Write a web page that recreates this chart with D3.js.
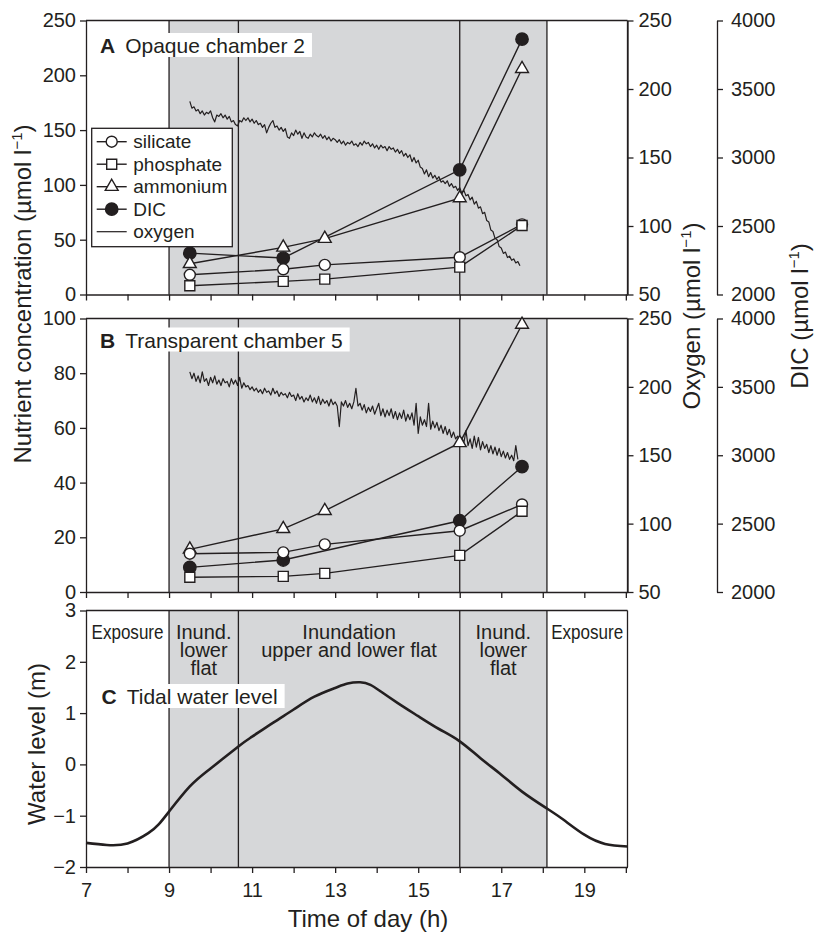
<!DOCTYPE html>
<html lang="en">
<head>
<meta charset="UTF-8">
<title>Chamber incubations and tide</title>
<script src="https://d3js.org/d3.v7.min.js"></script>
<style>
  body { margin: 0; background: #fff; }
  svg { display: block; font-family: "Liberation Sans", Arial, Helvetica, sans-serif; }
  .tick text { font-size: 20px; fill: #231f20; }
  .tick line, .domain { stroke: #231f20; stroke-width: 1.3; }
</style>
</head>
<body>
<svg width="815" height="933"></svg>
<script>
// ---- data ----
var sampleTimes = [9.5, 11.75, 12.75, 16, 17.5];
var dicTimes = [9.5, 11.75, 16, 17.5];

// A: opaque chamber 2
var silicateA = [18, 23, 27, 34, 64];
var phosphateA = [8, 12, 14, 25, 63];
var ammoniumA = [28, 43, 51, 88, 206];
var dicA = [2302, 2266, 2910, 3864];

// B: transparent chamber 5
var silicateB = [14, 14.5, 17.4, 22.4, 32];
var phosphateB = [5.4, 5.7, 6.8, 13.4, 29.5];
var ammoniumB = [15.6, 23.1, 29.7, 54.5, 97.8];
var dicB = [2180, 2234, 2521, 2916];

// oxygen logger traces [time, umol/l]
var oxygenA = [[9.5,191],[9.55,186],[9.6,187],[9.65,184],[9.7,185],[9.75,182],[9.8,184],[9.85,181],[9.9,183],[9.95,182],
  [10,184],[10.05,179],[10.1,176],[10.15,181],[10.2,180],[10.25,182],[10.3,179],[10.35,181],[10.4,178],[10.45,180],
  [10.5,176],[10.55,177],[10.6,174],[10.65,173],[10.7,177],[10.75,176],[10.8,179],[10.85,177],[10.9,179],[10.95,176],
  [11,178],[11.05,175],[11.1,177],[11.15,174],[11.2,175],[11.25,172],[11.3,174],[11.35,168],[11.4,172],[11.45,175],
  [11.5,177],[11.55,172],[11.6,173],[11.65,170],[11.7,172],[11.75,169],[11.8,171],[11.85,165],[11.9,164],[11.95,168],
  [12,166],[12.05,170],[12.1,167],[12.15,169],[12.2,164],[12.25,168],[12.3,165],[12.35,164],[12.4,167],[12.45,165],
  [12.5,168],[12.55,166],[12.6,165],[12.65,167],[12.7,164],[12.75,166],[12.8,163],[12.85,165],[12.9,162],[12.95,164],
  [13,163],[13.05,161],[13.1,163],[13.15,160],[13.2,162],[13.25,159],[13.3,161],[13.35,160],[13.4,162],[13.45,159],
  [13.5,160],[13.55,158],[13.6,161],[13.65,159],[13.7,162],[13.75,160],[13.8,161],[13.85,158],[13.9,160],[13.95,157],
  [14,159],[14.05,156],[14.1,159],[14.15,157],[14.2,158],[14.25,155],[14.3,158],[14.35,156],[14.4,157],[14.45,154],
  [14.5,156],[14.55,153],[14.6,155],[14.65,151],[14.7,153],[14.75,150],[14.8,152],[14.85,147],[14.9,150],[14.95,146],
  [15,148],[15.05,143],[15.1,142],[15.15,138],[15.2,141],[15.25,136],[15.3,139],[15.35,135],[15.4,137],[15.45,134],
  [15.5,136],[15.55,132],[15.6,133],[15.65,131],[15.7,133],[15.75,129],[15.8,131],[15.85,128],[15.9,129],[15.95,126],
  [16,128],[16.05,124],[16.1,126],[16.15,122],[16.2,123],[16.25,119],[16.3,121],[16.35,116],[16.4,118],[16.45,113],
  [16.5,114],[16.55,109],[16.6,110],[16.65,104],[16.7,103],[16.75,97],[16.8,96],[16.85,91],[16.9,90],[16.95,85],
  [17,84],[17.05,80],[17.1,81],[17.15,77],[17.2,78],[17.25,75],[17.3,76],[17.35,73],[17.4,74],[17.45,71]];

var oxygenB = [[9.5,211],[9.55,206],[9.6,210],[9.65,204],[9.7,208],[9.75,203],[9.8,211],[9.85,204],[9.9,206],[9.95,201],
  [10,207],[10.05,203],[10.1,208],[10.15,202],[10.2,205],[10.25,201],[10.3,206],[10.35,203],[10.4,204],[10.45,200],
  [10.5,206],[10.55,202],[10.6,205],[10.65,201],[10.7,207],[10.75,199],[10.8,203],[10.85,200],[10.9,201],[10.95,198],
  [11,200],[11.05,197],[11.1,199],[11.15,196],[11.2,198],[11.25,195],[11.3,199],[11.35,196],[11.4,197],[11.45,194],
  [11.5,199],[11.55,195],[11.6,197],[11.65,193],[11.7,196],[11.75,194],[11.8,195],[11.85,192],[11.9,196],[11.95,193],
  [12,194],[12.05,190],[12.1,195],[12.15,191],[12.2,193],[12.25,189],[12.3,192],[12.35,190],[12.4,194],[12.45,189],
  [12.5,192],[12.55,188],[12.6,193],[12.65,187],[12.7,191],[12.75,188],[12.8,190],[12.85,186],[12.9,191],[12.95,187],
  [13,189],[13.05,186],[13.1,171],[13.15,189],[13.2,186],[13.25,190],[13.3,185],[13.35,188],[13.4,184],[13.45,189],
  [13.5,199],[13.55,186],[13.6,188],[13.65,183],[13.7,187],[13.75,181],[13.8,185],[13.85,182],[13.9,186],[13.95,180],
  [14,184],[14.05,188],[14.1,179],[14.15,184],[14.2,178],[14.25,183],[14.3,179],[14.35,184],[14.4,177],[14.45,182],
  [14.5,176],[14.55,181],[14.6,177],[14.65,183],[14.7,175],[14.75,180],[14.8,176],[14.85,181],[14.9,172],[14.95,188],
  [15,166],[15.05,178],[15.1,172],[15.15,176],[15.2,171],[15.25,188],[15.3,169],[15.35,175],[15.4,170],[15.45,174],
  [15.5,168],[15.55,172],[15.6,166],[15.65,171],[15.7,165],[15.75,169],[15.8,163],[15.85,167],[15.9,162],[15.95,164],
  [16,160],[16.05,163],[16.1,159],[16.15,168],[16.2,157],[16.25,162],[16.3,155],[16.35,164],[16.4,156],[16.45,163],
  [16.5,154],[16.55,160],[16.6,155],[16.65,158],[16.7,152],[16.75,157],[16.8,151],[16.85,156],[16.9,150],[16.95,155],
  [17,149],[17.05,153],[17.1,148],[17.15,152],[17.2,147],[17.25,150],[17.3,146],[17.35,157],[17.4,147]];

// C: tidal water level [time, m]
var tideLevel = [[7,-1.53],[7.5,-1.57],[8,-1.54],[8.5,-1.34],[8.75,-1.17],[9,-0.92],[9.5,-0.43],[10,-0.08],
  [10.67,0.35],[11,0.54],[11.5,0.81],[12,1.07],[12.5,1.32],[13,1.49],[13.3,1.575],[13.6,1.6],[13.85,1.55],
  [14.1,1.42],[14.5,1.2],[15,0.94],[15.5,0.69],[16,0.45],[16.5,0.12],[17,-0.2],[17.5,-0.53],[18.1,-0.86],
  [18.5,-1.08],[19,-1.37],[19.5,-1.55],[20.04,-1.6]];

// period boundaries and labels
var periodEdges = [9, 10.67, 16, 18.1];
var periodLabels = [
  {from: 7, to: 9, lines: ["Exposure"]},
  {from: 9, to: 10.67, lines: ["Inund.", "lower", "flat"]},
  {from: 10.67, to: 16, lines: ["Inundation", "upper and lower flat"]},
  {from: 16, to: 18.1, lines: ["Inund.", "lower", "flat"]},
  {from: 18.1, to: 20.04, lines: ["Exposure"]}
];

// ticks
var hourTicks = [7, 8, 9, 10, 11, 12, 13, 14, 15, 16, 17, 18, 19, 20];
var hourLabels = [7, 9, 11, 13, 15, 17, 19];
var nutrientTicksA = [0, 50, 100, 150, 200, 250];
var nutrientTicksB = [0, 20, 40, 60, 80, 100];
var oxygenTicks = [50, 100, 150, 200, 250];
var dicTicks = [2000, 2500, 3000, 3500, 4000];
var levelTicks = [-2, -1, 0, 1, 2, 3];

// ---- drawing ----
var ink = "#231f20", shade = "#d6d7d9";
var svg = d3.select("svg");
var x = d3.scaleLinear().domain([7, 20.04]).range([86, 627.5]);
var plain = d3.format("");

var sym = {
  circle: d3.symbol().type(d3.symbolCircle).size(95),
  square: d3.symbol().type(d3.symbolSquare).size(100),
  triangle: d3.symbol().type(d3.symbolTriangle).size(72),
  dot: d3.symbol().type(d3.symbolCircle).size(120)
};

function drawBackground(g, top, bottom) {
  g.append("rect")
    .attr("x", x(periodEdges[0])).attr("y", top)
    .attr("width", x(periodEdges[3]) - x(periodEdges[0]))
    .attr("height", bottom - top)
    .attr("fill", shade);
  g.selectAll("line.edge").data(periodEdges).enter().append("line")
    .attr("class", "edge")
    .attr("x1", d => x(d)).attr("x2", d => x(d))
    .attr("y1", top).attr("y2", bottom)
    .attr("stroke", ink).attr("stroke-width", 1.3);
  // top and right frame
  g.append("line").attr("x1", x.range()[0]).attr("x2", x.range()[1])
    .attr("y1", top).attr("y2", top).attr("stroke", ink).attr("stroke-width", 1.3);
  g.append("line").attr("x1", x.range()[1]).attr("x2", x.range()[1])
    .attr("y1", top).attr("y2", bottom).attr("stroke", ink).attr("stroke-width", 1.3);
}

function drawXAxis(g, bottom, labelled) {
  g.append("g")
    .attr("transform", "translate(0," + bottom + ")")
    .call(d3.axisBottom(x).tickValues(hourTicks).tickSize(6).tickSizeOuter(0).tickPadding(10)
      .tickFormat(d => labelled && hourLabels.indexOf(d) >= 0 ? plain(d) : ""));
}

function drawLeftAxis(g, scale, ticks) {
  g.append("g")
    .attr("transform", "translate(" + x.range()[0] + ",0)")
    .call(d3.axisLeft(scale).tickValues(ticks).tickFormat(plain)
      .tickSize(6).tickPadding(4).tickSizeOuter(0));
}

function drawRightAxes(g, oScale, dScale) {
  g.append("g")
    .attr("transform", "translate(" + x.range()[1] + ",0)")
    .call(d3.axisRight(oScale).tickValues(oxygenTicks).tickFormat(plain)
      .tickSize(6).tickPadding(5).tickSizeOuter(0));
  g.append("g")
    .attr("transform", "translate(717,0)")
    .call(d3.axisRight(dScale).tickValues(dicTicks).tickFormat(plain)
      .tickSize(6).tickPadding(8).tickSizeOuter(0));
}

function drawTitle(g, letter, rest, tx, ty) {
  var t = g.append("text").attr("x", tx).attr("y", ty)
    .attr("font-size", 21).attr("fill", ink);
  t.append("tspan").attr("font-weight", "bold").text(letter);
  t.append("tspan").attr("dx", 10).text(rest);
  var bb = t.node().getBBox();
  g.insert("rect", function() { return t.node(); })
    .attr("x", bb.x - 5).attr("y", bb.y - 1)
    .attr("width", bb.width + 12).attr("height", bb.height + 1)
    .attr("fill", "#fff");
}

function drawSeries(g, series) {
  var layer = g.append("g");
  series.forEach(function(s) {
    var pts = s.times.map((t, i) => [x(t), s.scale(s.values[i])]);
    layer.append("path")
      .attr("d", d3.line()(pts))
      .attr("fill", "none").attr("stroke", ink).attr("stroke-width", 1.4);
  });
  series.forEach(function(s) {
    s.times.forEach(function(t, i) {
      layer.append("path")
        .attr("d", sym[s.symbol]())
        .attr("transform", "translate(" + x(t) + "," + s.scale(s.values[i]) + ")")
        .attr("fill", s.symbol === "dot" ? ink : "#fff")
        .attr("stroke", ink).attr("stroke-width", 1.4);
    });
  });
}

function drawOxygen(g, data, scale) {
  g.append("path")
    .datum(data)
    .attr("d", d3.line().x(d => x(d[0])).y(d => scale(d[1])))
    .attr("fill", "none").attr("stroke", ink).attr("stroke-width", 1.2)
    .attr("stroke-linejoin", "round");
}

// Panel A
var yA = d3.scaleLinear().domain([0, 250]).range([294.5, 20.5]);
var oA = d3.scaleLinear().domain([50, 250]).range([294.5, 20.5]);
var dA = d3.scaleLinear().domain([2000, 4000]).range([294.5, 20.5]);
var gA = svg.append("g");
drawBackground(gA, 20.5, 294.5);
drawOxygen(gA, oxygenA, oA);
drawSeries(gA, [
  {times: dicTimes, values: dicA, scale: dA, symbol: "dot"},
  {times: sampleTimes, values: ammoniumA, scale: yA, symbol: "triangle"},
  {times: sampleTimes, values: silicateA, scale: yA, symbol: "circle"},
  {times: sampleTimes, values: phosphateA, scale: yA, symbol: "square"}
]);
drawXAxis(gA, 294.5, false);
drawLeftAxis(gA, yA, nutrientTicksA);
drawRightAxes(gA, oA, dA);
drawTitle(gA, "A", "Opaque chamber 2", 100, 53);

// legend
var legendItems = [
  {name: "silicate", symbol: "circle"},
  {name: "phosphate", symbol: "square"},
  {name: "ammonium", symbol: "triangle"},
  {name: "DIC", symbol: "dot"},
  {name: "oxygen", symbol: null}
];
var leg = gA.append("g").attr("transform", "translate(91.7,128.3)");
leg.append("rect").attr("width", 140.6).attr("height", 118.4)
  .attr("fill", "#fff").attr("stroke", ink).attr("stroke-width", 1.3);
legendItems.forEach(function(d, i) {
  var ly = 13.4 + i * 22.5;
  leg.append("line").attr("x1", 5).attr("x2", 35).attr("y1", ly).attr("y2", ly)
    .attr("stroke", ink).attr("stroke-width", d.symbol ? 1.4 : 1.2);
  if (d.symbol) {
    leg.append("path").attr("d", sym[d.symbol]())
      .attr("transform", "translate(20," + ly + ")")
      .attr("fill", d.symbol === "dot" ? ink : "#fff")
      .attr("stroke", ink).attr("stroke-width", 1.4);
  }
  leg.append("text").attr("x", 41.6).attr("y", ly).attr("dy", "0.35em")
    .attr("font-size", 19).attr("fill", ink).text(d.name);
});

// Panel B
var yB = d3.scaleLinear().domain([0, 100]).range([592, 318.5]);
var oB = d3.scaleLinear().domain([50, 250]).range([592, 318.5]);
var dB = d3.scaleLinear().domain([2000, 4000]).range([592, 318.5]);
var gB = svg.append("g");
drawBackground(gB, 318.5, 592);
drawOxygen(gB, oxygenB, oB);
drawSeries(gB, [
  {times: sampleTimes, values: ammoniumB, scale: yB, symbol: "triangle"},
  {times: dicTimes, values: dicB, scale: dB, symbol: "dot"},
  {times: sampleTimes, values: silicateB, scale: yB, symbol: "circle"},
  {times: sampleTimes, values: phosphateB, scale: yB, symbol: "square"}
]);
drawXAxis(gB, 592, false);
drawLeftAxis(gB, yB, nutrientTicksB);
drawRightAxes(gB, oB, dB);
drawTitle(gB, "B", "Transparent chamber 5", 100, 347.5);

// Panel C
var yC = d3.scaleLinear().domain([-2, 3]).range([867, 610.5]);
var gC = svg.append("g");
drawBackground(gC, 610.5, 867);
gC.selectAll("text.period").data(periodLabels).enter().append("text")
  .attr("class", "period")
  .attr("x", d => (x(d.from) + x(d.to)) / 2)
  .attr("y", 639)
  .attr("text-anchor", "middle").attr("font-size", 20).attr("fill", ink)
  .each(function(d) {
    var t = d3.select(this);
    d.lines.forEach(function(line, i) {
      var ts = t.append("tspan").attr("x", (x(d.from) + x(d.to)) / 2)
        .attr("dy", i === 0 ? 0 : 18.2).text(line);
      if (line === "Exposure") ts.attr("textLength", 72).attr("lengthAdjust", "spacingAndGlyphs");
    });
  });
gC.append("path")
  .datum(tideLevel)
  .attr("d", d3.line().x(d => x(d[0])).y(d => yC(d[1])).curve(d3.curveNatural))
  .attr("fill", "none").attr("stroke", ink).attr("stroke-width", 2.6);
drawXAxis(gC, 867, true);
drawLeftAxis(gC, yC, levelTicks);
drawTitle(gC, "C", "Tidal water level", 101.5, 704);

// axis titles
function rotatedLabel(cx, cy, main) {
  var t = svg.append("text")
    .attr("transform", "translate(" + cx + "," + cy + ") rotate(-90)")
    .attr("text-anchor", "middle").attr("font-size", 24).attr("fill", ink);
  t.append("tspan").text(main);
  t.append("tspan").attr("dy", -9).attr("font-size", 15).text("\u22121");
  t.append("tspan").attr("dy", 9).text(")");
}
rotatedLabel(31, 294, "Nutrient concentration (\u00b5mol l");
rotatedLabel(700, 316, "Oxygen (\u00b5mol l");
rotatedLabel(808, 316, "DIC (\u00b5mol l");

svg.append("text")
  .attr("transform", "translate(45,744) rotate(-90)")
  .attr("text-anchor", "middle").attr("font-size", 24).attr("fill", ink)
  .text("Water level (m)");

svg.append("text")
  .attr("x", 368).attr("y", 927)
  .attr("text-anchor", "middle").attr("font-size", 24).attr("fill", ink)
  .text("Time of day (h)");
</script>
</body>
</html>
